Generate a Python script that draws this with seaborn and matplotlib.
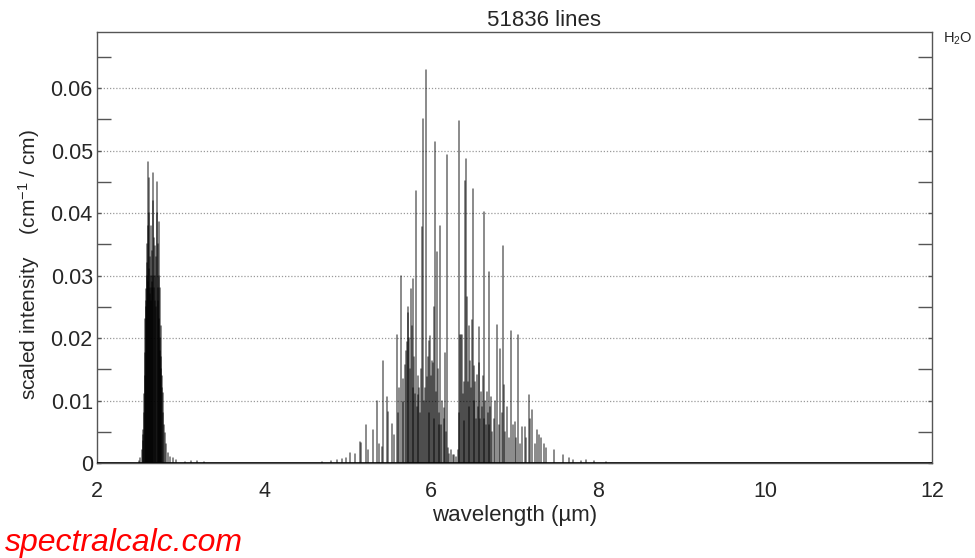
import numpy as np
import pandas as pd
import matplotlib
matplotlib.use("Agg")
import matplotlib.pyplot as plt
import seaborn as sns
from matplotlib.ticker import MultipleLocator

# Line positions (wavelength, um) and scaled intensities
band_27_wl = [
    2.500, 2.520, 2.535, 2.545, 2.550, 2.555, 2.560, 2.565, 2.570, 2.575, 2.580, 2.584,
    2.587, 2.591, 2.595, 2.600, 2.604, 2.607, 2.611, 2.615, 2.620, 2.624, 2.627, 2.631,
    2.635, 2.639, 2.643, 2.647, 2.650, 2.654, 2.657, 2.661, 2.665, 2.670, 2.675, 2.680,
    2.685, 2.690, 2.695, 2.700, 2.705, 2.710, 2.716, 2.722, 2.726, 2.730, 2.734, 2.738,
    2.742, 2.746, 2.750, 2.755, 2.760, 2.763, 2.767, 2.770, 2.775, 2.780, 2.787, 2.795,
    2.805, 2.814, 2.830, 2.854, 2.880, 2.914, 2.950,
]
band_27_int = [
    0.0003, 0.0008, 0.0020, 0.0035, 0.0045, 0.0053, 0.0080, 0.0110, 0.0140, 0.0176, 0.0230, 0.0250,
    0.0278, 0.0260, 0.0350, 0.0300, 0.0320, 0.0380, 0.0290, 0.0482, 0.0400, 0.0310, 0.0457, 0.0280,
    0.0330, 0.0270, 0.0300, 0.0260, 0.0380, 0.0290, 0.0340, 0.0280, 0.0420, 0.0300, 0.0465, 0.0360,
    0.0280, 0.0347, 0.0260, 0.0300, 0.0250, 0.0330, 0.0400, 0.0450, 0.0280, 0.0350, 0.0260, 0.0300,
    0.0230, 0.0385, 0.0200, 0.0280, 0.0180, 0.0219, 0.0150, 0.0170, 0.0120, 0.0140, 0.0112, 0.0080,
    0.0060, 0.0048, 0.0030, 0.0016, 0.0010, 0.0008, 0.0004,
]
weak_wl = [3.05, 3.12, 3.20, 3.28, 4.70, 4.80, 4.88, 4.93, 7.65, 7.70, 7.80, 7.86, 7.95, 8.10]
weak_int = [0.0002, 0.0003, 0.0003, 0.0002, 0.0002, 0.0003, 0.0005, 0.0007,
            0.0008, 0.0004, 0.0003, 0.0005, 0.0003, 0.0002]
band_63_wl = [
    4.98, 5.03, 5.09, 5.15, 5.16, 5.22, 5.25, 5.30, 5.35, 5.38, 5.41, 5.43, 5.47, 5.49,
    5.53, 5.56, 5.59, 5.61, 5.62, 5.64, 5.66, 5.67, 5.69, 5.70, 5.71, 5.72, 5.73, 5.74,
    5.75, 5.76, 5.77, 5.78, 5.79, 5.80, 5.81, 5.82, 5.83, 5.84, 5.85, 5.86, 5.87, 5.88,
    5.89, 5.90, 5.92, 5.93, 5.94, 5.95, 5.96, 5.97, 5.98, 5.99, 6.00, 6.01, 6.02, 6.03,
    6.04, 6.05, 6.06, 6.07, 6.08, 6.09, 6.10, 6.11, 6.12, 6.13, 6.15, 6.16, 6.17, 6.18,
    6.19, 6.20, 6.22, 6.24, 6.26, 6.28, 6.30, 6.32, 6.33, 6.34, 6.35, 6.36, 6.37, 6.38,
    6.39, 6.40, 6.41, 6.42, 6.43, 6.44, 6.45, 6.46, 6.47, 6.48, 6.49, 6.50, 6.51, 6.52,
    6.53, 6.54, 6.55, 6.56, 6.57, 6.58, 6.59, 6.60, 6.61, 6.62, 6.63, 6.64, 6.65, 6.66,
    6.67, 6.68, 6.69, 6.70, 6.71, 6.72, 6.73, 6.75, 6.77, 6.79, 6.81, 6.83, 6.85, 6.86,
    6.87, 6.89, 6.91, 6.93, 6.96, 6.98, 7.00, 7.02, 7.04, 7.06, 7.09, 7.12, 7.14, 7.17,
    7.19, 7.21, 7.24, 7.27, 7.29, 7.32, 7.35, 7.38, 7.47, 7.58,
]
band_63_int = [
    0.0008, 0.0016, 0.0014, 0.0033, 0.0032, 0.0061, 0.0020, 0.0052, 0.0099, 0.0030, 0.0025, 0.0163, 0.0106, 0.0082,
    0.0062, 0.0045, 0.0205, 0.0080, 0.0120, 0.0300, 0.0097, 0.0135, 0.0157, 0.0180, 0.0193, 0.0240, 0.0250, 0.0200,
    0.0150, 0.0278, 0.0220, 0.0294, 0.0120, 0.0170, 0.0110, 0.0435, 0.0090, 0.0140, 0.0109, 0.0120, 0.0080, 0.0150,
    0.0377, 0.0550, 0.0100, 0.0120, 0.0629, 0.0138, 0.0170, 0.0080, 0.0195, 0.0203, 0.0140, 0.0163, 0.0160, 0.0070,
    0.0250, 0.0514, 0.0113, 0.0337, 0.0150, 0.0060, 0.0080, 0.0379, 0.0060, 0.0100, 0.0088, 0.0070, 0.0176, 0.0050,
    0.0493, 0.0024, 0.0015, 0.0020, 0.0013, 0.0012, 0.0010, 0.0020, 0.0080, 0.0547, 0.0205, 0.0205, 0.0205, 0.0110,
    0.0067, 0.0130, 0.0451, 0.0487, 0.0265, 0.0130, 0.0220, 0.0090, 0.0163, 0.0120, 0.0229, 0.0438, 0.0100, 0.0155,
    0.0130, 0.0070, 0.0141, 0.0090, 0.0218, 0.0160, 0.0070, 0.0113, 0.0090, 0.0140, 0.0401, 0.0070, 0.0100, 0.0060,
    0.0113, 0.0080, 0.0305, 0.0060, 0.0090, 0.0105, 0.0050, 0.0070, 0.0100, 0.0221, 0.0060, 0.0183, 0.0080, 0.0347,
    0.0125, 0.0050, 0.0090, 0.0040, 0.0212, 0.0060, 0.0066, 0.0040, 0.0205, 0.0030, 0.0058, 0.0058, 0.0040, 0.0109,
    0.0070, 0.0085, 0.0030, 0.0053, 0.0045, 0.0040, 0.0030, 0.0024, 0.0021, 0.0013,
]

x_ticks = [2, 4, 6, 8, 10, 12]
y_ticks = [0, 0.01, 0.02, 0.03, 0.04, 0.05, 0.06]
y_tick_labels = ["0", "0.01", "0.02", "0.03", "0.04", "0.05", "0.06"]

sns.set_style("white")
plt.rcParams["font.family"] = ["Liberation Sans", "DejaVu Sans"]
plt.rcParams["mathtext.default"] = "regular"

wavelength = band_27_wl + weak_wl + band_63_wl
intensity = band_27_int + weak_int + band_63_int

# stick table: each line drawn from 0 to its intensity
n = len(wavelength)
df = pd.DataFrame({
    "wl": np.repeat(wavelength, 2),
    "val": np.ravel(np.column_stack([np.zeros(n), intensity])),
    "line": np.repeat(np.arange(n), 2),
})

fig = plt.figure(figsize=(9.75, 5.58), dpi=100)
ax = fig.add_axes([0.0995, 0.1703, 0.8564, 0.7724])

for yv in y_ticks[1:]:
    ax.axhline(yv, color="#999999", lw=0.9, ls=(0, (1, 1.5)), zorder=0)

sns.lineplot(data=df, x="wl", y="val", units="line", estimator=None, sort=False,
             color="black", alpha=0.58, lw=1.1, ax=ax, legend=False)
ax.axhline(0, color="black", lw=1.2, zorder=3)

ax.set_xlim(2, 12)
ax.set_ylim(0, 0.069)
ax.set_xticks(x_ticks)
ax.set_xticklabels([str(t) for t in x_ticks])
ax.xaxis.set_minor_locator(MultipleLocator(1))
ax.set_yticks(y_ticks)
ax.set_yticklabels(y_tick_labels)
ax.yaxis.set_minor_locator(MultipleLocator(0.005))

ax.tick_params(axis="x", which="both", direction="out", length=8, width=1,
               color="#555555", labelsize=15.5, pad=5, top=False)
ax.tick_params(axis="y", which="major", direction="in", length=3, width=1,
               color="#555555", labelsize=15.5, pad=3, left=True, right=True)
ax.tick_params(axis="y", which="minor", direction="in", length=10, width=1,
               color="#555555", left=True, right=True)

for s in ax.spines.values():
    s.set_color("#555555")
    s.set_linewidth(1.0)

ax.set_xlabel("wavelength (\u00b5m)", fontsize=16)
ax.xaxis.set_label_coords(0.5, -0.097)
ax.set_ylabel("scaled intensity    (cm$^{-1}$ / cm)", fontsize=15)
ax.yaxis.set_label_coords(-0.066, 0.46)

fig.text(0.558, 0.963, "51836 lines", fontsize=16, ha="center", va="center")
fig.text(0.967, 0.93, "H$_2$O", fontsize=10.5, ha="left", va="center")
fig.text(0.005, 0.026, "spectralcalc.com", fontsize=23, color="red", style="italic",
         ha="left", va="center")

fig.savefig("out.png", dpi=100)
